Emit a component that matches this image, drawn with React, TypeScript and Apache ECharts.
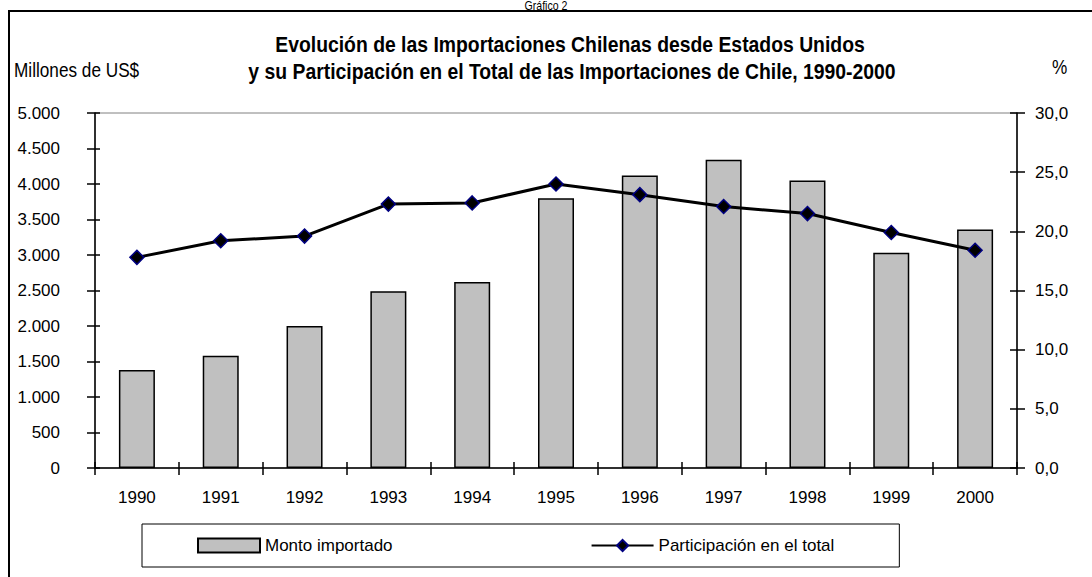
import React, { useEffect, useRef } from "react";
import * as echarts from "echarts";

const years = ["1990", "1991", "1992", "1993", "1994", "1995", "1996", "1997", "1998", "1999", "2000"];
const montoImportado = [1380, 1580, 2000, 2490, 2620, 3800, 4120, 4340, 4050, 3030, 3360];
const participacion = [17.8, 19.2, 19.6, 22.3, 22.4, 24.0, 23.1, 22.1, 21.5, 19.9, 18.4];
const leftTicks = { min: 0, max: 5000, interval: 500 };
const rightTicks = { min: 0, max: 30, interval: 5 };

const FONT = "'Liberation Sans', Arial, sans-serif";

export default function App() {
  const ref = useRef<HTMLDivElement>(null);
  useEffect(() => {
    if (!ref.current) return;
    const chart = echarts.init(ref.current, null, { renderer: "svg" });
    const axisLine = { show: true, lineStyle: { color: "#000", width: 1.5 } };
    const tickStyle = { color: "#000", width: 1.5 };
    chart.setOption({
      animation: false,
      backgroundColor: "#fff",
      textStyle: { fontFamily: FONT },
      grid: {
        left: 95,
        right: 75,
        top: 113,
        bottom: 109,
        show: true,
        borderColor: "#808080",
        borderWidth: 1,
        backgroundColor: "transparent",
      },
      legend: {
        left: 142,
        top: 524,
        padding: [13, 65, 13, 55],
        itemGap: 198,
        itemWidth: 62,
        itemHeight: 14,
        borderColor: "#000",
        borderWidth: 1,
        textStyle: { fontFamily: FONT, fontSize: 17, color: "#000" },
        data: [
          { name: "Monto importado", icon: "rect" },
          { name: "Participación en el total" },
        ],
      },
      xAxis: [
        {
          type: "category",
          data: years,
          axisLine,
          axisTick: { show: true, length: 7, lineStyle: tickStyle },
          axisLabel: { color: "#000", fontSize: 17, fontFamily: FONT, margin: 21 },
          splitLine: { show: false },
        },
        {
          type: "category",
          data: years,
          position: "bottom",
          axisLine: { show: false },
          axisTick: { show: true, inside: true, length: 6, lineStyle: tickStyle },
          axisLabel: { show: false },
          splitLine: { show: false },
        },
      ],
      yAxis: [
        {
          type: "value",
          position: "left",
          ...leftTicks,
          axisLine,
          axisTick: { show: true, length: 8, lineStyle: tickStyle },
          axisLabel: {
            color: "#000",
            fontSize: 17,
            fontFamily: FONT,
            margin: 35,
            formatter: (v: number) => v.toLocaleString("de-DE"),
          },
          splitLine: { show: false },
        },
        {
          type: "value",
          position: "right",
          ...rightTicks,
          axisLine,
          axisTick: { show: true, length: 8, lineStyle: tickStyle },
          axisLabel: {
            color: "#000",
            fontSize: 17,
            fontFamily: FONT,
            margin: 18,
            formatter: (v: number) => v.toFixed(1).replace(".", ","),
          },
          splitLine: { show: false },
        },
        {
          type: "value",
          position: "left",
          ...leftTicks,
          axisLine: { show: false },
          axisTick: { show: true, inside: true, length: 5, lineStyle: tickStyle },
          axisLabel: { show: false },
          splitLine: { show: false },
        },
        {
          type: "value",
          position: "right",
          ...rightTicks,
          axisLine: { show: false },
          axisTick: { show: true, inside: true, length: 7, lineStyle: tickStyle },
          axisLabel: { show: false },
          splitLine: { show: false },
        },
      ],
      series: [
        {
          name: "Monto importado",
          type: "bar",
          data: montoImportado,
          xAxisIndex: 0,
          yAxisIndex: 0,
          barWidth: 36,
          itemStyle: { color: "#c0c0c0", borderColor: "#000", borderWidth: 1.5 },
        },
        {
          name: "Participación en el total",
          type: "line",
          data: participacion,
          xAxisIndex: 0,
          yAxisIndex: 1,
          symbol: "diamond",
          symbolSize: 14,
          lineStyle: { color: "#000", width: 3 },
          itemStyle: { color: "#000", borderColor: "#000080", borderWidth: 1.5 },
        },
      ],
      graphic: [
        {
          type: "rect",
          shape: { x: 9, y: 11, width: 1100, height: 620 },
          style: { fill: "none", stroke: "#000", lineWidth: 2 },
          silent: true,
        },
        {
          type: "text",
          x: 546,
          y: 0,
          scaleX: 0.88,
          style: {
            text: "Gráfico 2",
            font: `12px ${FONT}`,
            fill: "#000",
            textAlign: "center",
            textVerticalAlign: "top",
          },
        },
        {
          type: "text",
          x: 570,
          y: 44,
          scaleX: 0.88,
          style: {
            text: "Evolución de las Importaciones Chilenas desde Estados Unidos",
            font: `bold 22px ${FONT}`,
            fill: "#000",
            textAlign: "center",
            textVerticalAlign: "middle",
          },
        },
        {
          type: "text",
          x: 572,
          y: 71,
          scaleX: 0.88,
          style: {
            text: "y su Participación en el Total de las Importaciones de Chile, 1990-2000",
            font: `bold 22px ${FONT}`,
            fill: "#000",
            textAlign: "center",
            textVerticalAlign: "middle",
          },
        },
        {
          type: "text",
          x: 14,
          y: 70,
          scaleX: 0.86,
          style: {
            text: "Millones de US$",
            font: `20px ${FONT}`,
            fill: "#000",
            textAlign: "left",
            textVerticalAlign: "middle",
          },
        },
        {
          type: "text",
          x: 1052,
          y: 67,
          scaleX: 0.86,
          style: {
            text: "%",
            font: `20px ${FONT}`,
            fill: "#000",
            textAlign: "left",
            textVerticalAlign: "middle",
          },
        },
      ],
    });
    return () => chart.dispose();
  }, []);
  return (
    <div
      ref={ref}
      style={{ position: "fixed", left: 0, top: 0, width: 1092, height: 577 }}
    />
  );
}
